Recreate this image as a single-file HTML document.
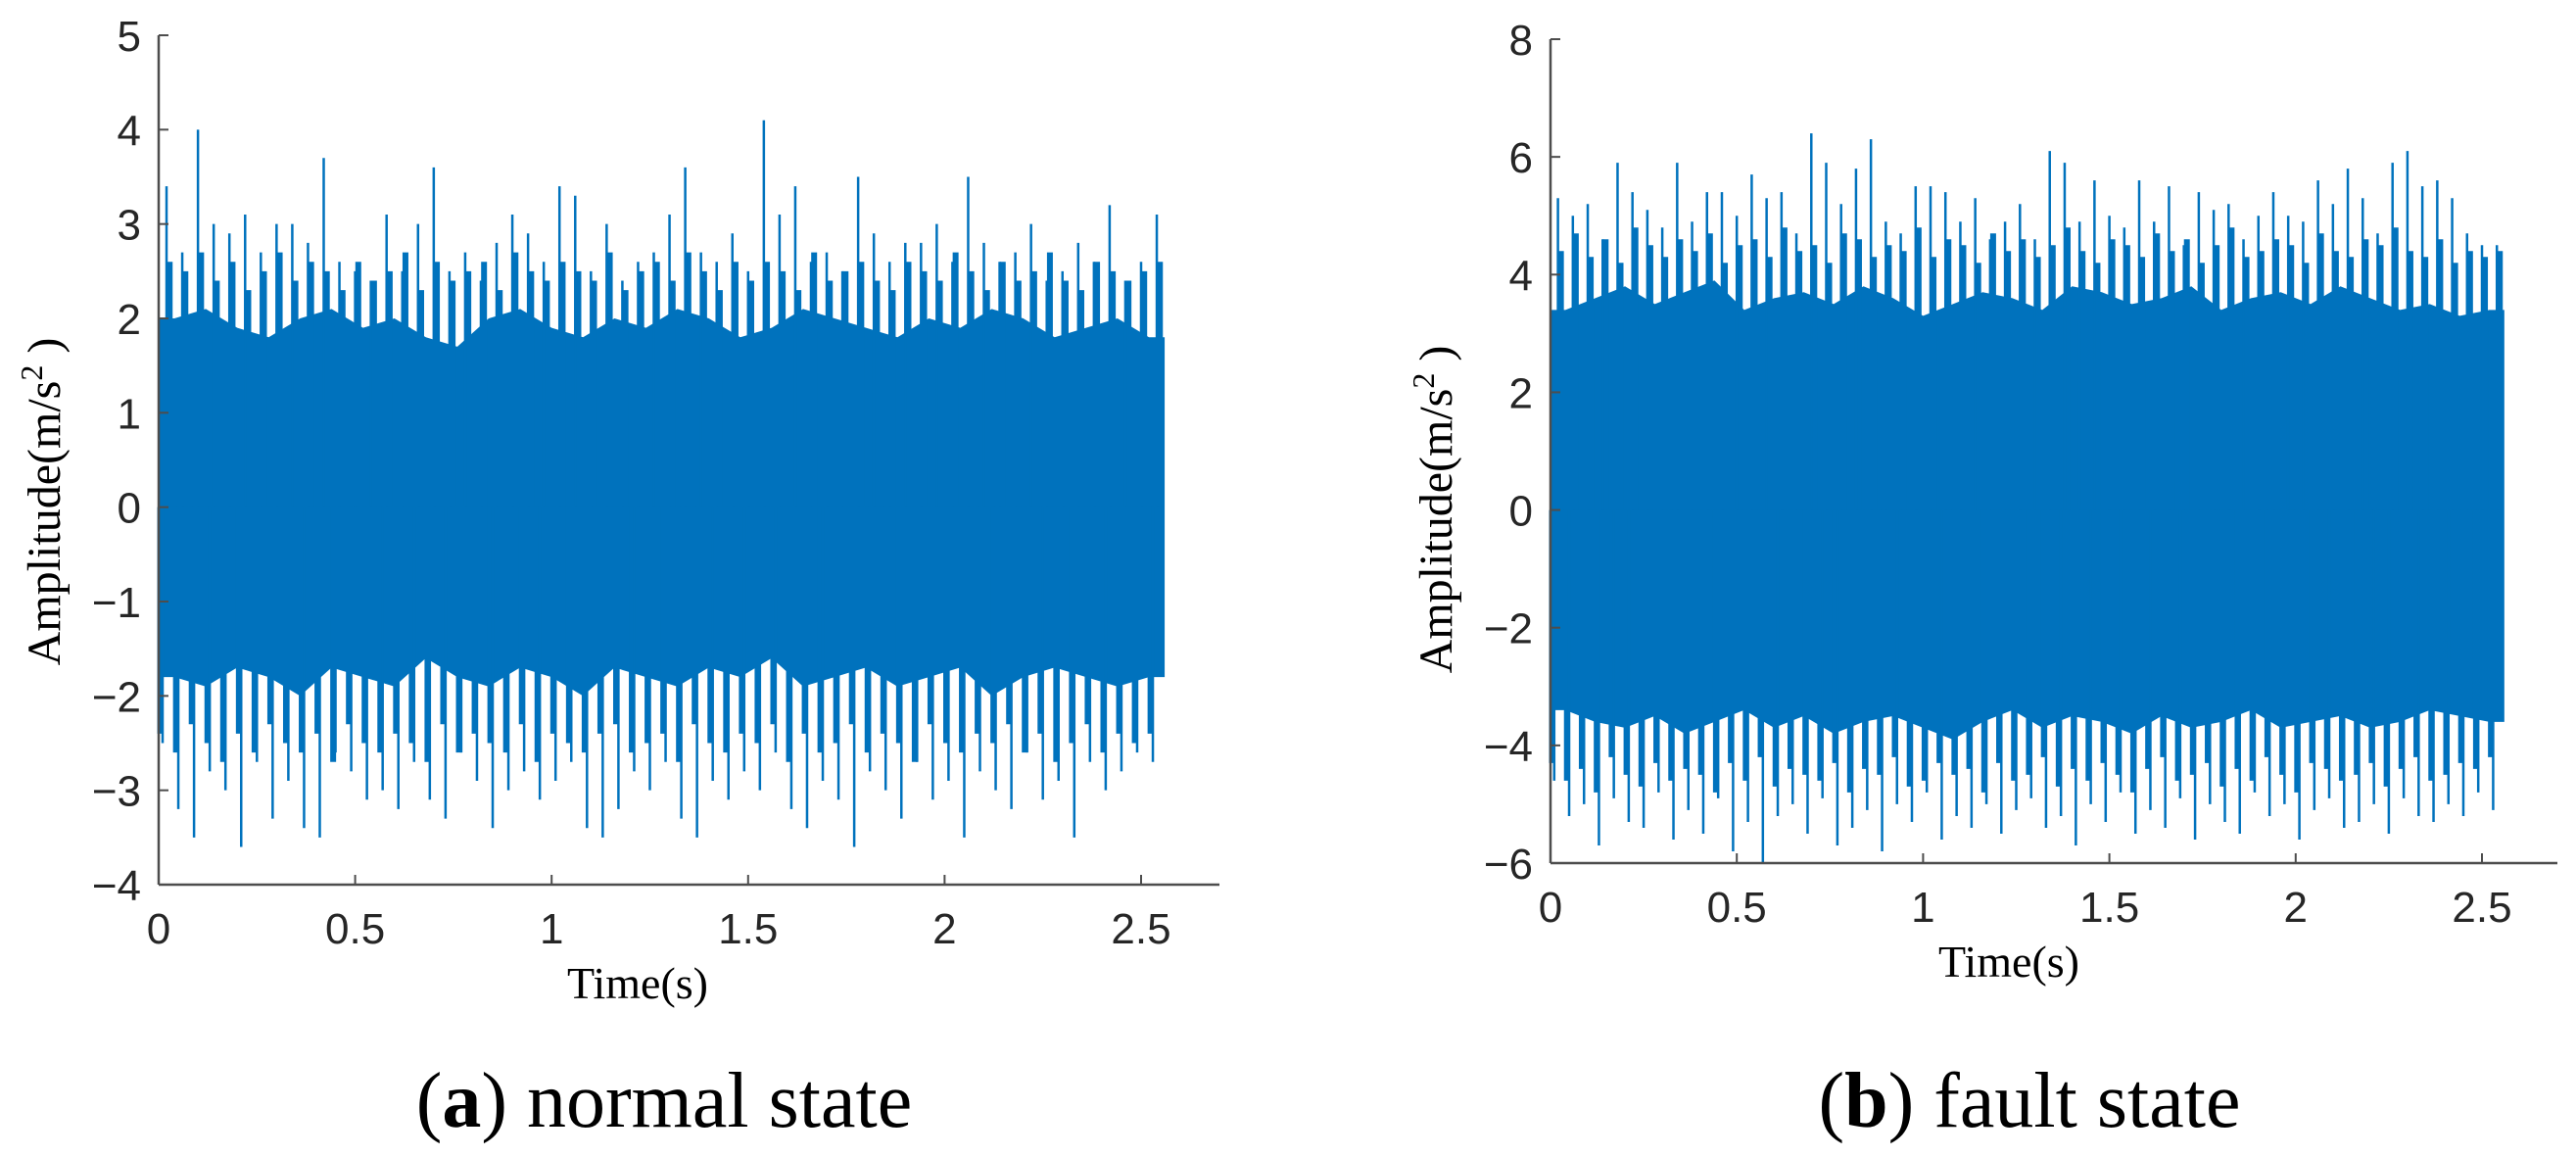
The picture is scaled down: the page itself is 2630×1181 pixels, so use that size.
<!DOCTYPE html>
<html><head><meta charset="utf-8">
<style>
html,body{margin:0;padding:0;background:#fff;}
body{width:2630px;height:1181px;overflow:hidden;position:relative;}
svg{position:absolute;left:0;top:0;}
</style></head>
<body>
<svg id="fig" width="2630" height="1181" xmlns="http://www.w3.org/2000/svg"></svg>
<script>
// ---- data: normal state (a) ----
const aSpikeHi = [3.4,2.7,4.0,3.0,2.9,3.1,2.7,3.0,3.0,2.8,3.7,2.6,2.5,2.4,3.1,2.5,3.0,3.6,2.5,2.7,2.4,2.8,3.1,2.9,2.6,3.4,3.3,2.5,3.0,2.4,2.6,2.7,3.1,3.6,2.7,2.6,2.9,2.5,4.1,3.1,3.4,2.6,2.7,2.5,3.5,2.9,2.6,2.8,2.8,3.0,2.6,3.5,2.8,2.6,2.7,3.0,2.4,2.5,2.8,2.6,3.2,2.4,2.6,3.1];
const aSpikeLo = [-2.5,-3.2,-3.5,-2.8,-3.0,-3.6,-2.7,-3.3,-2.9,-3.4,-3.5,-2.6,-2.8,-3.1,-3.0,-3.2,-2.7,-3.1,-3.3,-2.6,-2.9,-3.4,-3.0,-2.8,-3.1,-2.9,-2.7,-3.4,-3.5,-3.2,-2.8,-3.0,-2.7,-3.3,-3.5,-2.9,-3.1,-2.8,-3.0,-2.6,-3.2,-3.4,-2.9,-3.1,-3.6,-2.8,-3.0,-3.3,-2.7,-3.1,-2.9,-3.5,-2.8,-3.0,-3.2,-2.6,-3.1,-2.9,-3.5,-2.7,-3.0,-2.8,-2.6,-2.7];
const aMidHi = [2.6,2.5,2.7,2.4,2.6,2.3,2.5,2.7,2.4,2.6,2.5,2.3,2.6,2.4,2.5,2.7,2.3,2.6,2.4,2.5,2.6,2.3,2.7,2.5,2.4,2.6,2.5,2.4,2.7,2.3,2.5,2.6,2.4,2.7,2.5,2.3,2.6,2.4,2.6,2.5,2.3,2.7,2.4,2.5,2.6,2.4,2.3,2.6,2.5,2.4,2.7,2.5,2.3,2.6,2.4,2.5,2.7,2.4,2.3,2.6,2.5,2.4,2.5,2.6];
const aMidLo = [-2.4,-2.6,-2.3,-2.5,-2.7,-2.4,-2.6,-2.3,-2.5,-2.6,-2.4,-2.7,-2.3,-2.5,-2.6,-2.4,-2.5,-2.7,-2.3,-2.6,-2.4,-2.5,-2.6,-2.3,-2.7,-2.4,-2.5,-2.6,-2.4,-2.3,-2.6,-2.5,-2.4,-2.7,-2.3,-2.5,-2.6,-2.4,-2.5,-2.3,-2.7,-2.4,-2.6,-2.5,-2.3,-2.6,-2.4,-2.5,-2.7,-2.3,-2.5,-2.6,-2.4,-2.5,-2.3,-2.6,-2.4,-2.7,-2.5,-2.3,-2.6,-2.4,-2.5,-2.4];
const aCoreHi = [2.0,2.1,1.9,1.8,2.0,2.1,1.9,2.0,1.8,1.7,2.0,2.1,1.9,1.8,2.0,1.9,2.1,2.0,1.8,1.9,2.1,2.0,1.9,1.8,2.0,1.9,2.1,2.0,1.8,1.9,2.0,1.8];
const aCoreLo = [-1.8,-1.9,-1.7,-1.8,-2.0,-1.7,-1.8,-1.9,-1.6,-1.8,-1.9,-1.7,-1.8,-2.0,-1.7,-1.8,-1.9,-1.7,-1.8,-1.6,-1.9,-1.8,-1.7,-1.9,-1.8,-1.7,-2.0,-1.8,-1.7,-1.8,-1.9,-1.8];
const aYTicks = [-4,-3,-2,-1,0,1,2,3,4,5];
// ---- data: fault state (b) ----
const bSpikeHi = [5.3,5.0,5.2,4.6,5.9,5.4,5.1,4.8,5.9,4.9,5.4,5.4,5.0,5.7,5.3,5.4,4.7,6.4,5.9,5.2,5.8,6.3,4.9,4.7,5.5,5.5,5.4,4.9,5.3,4.6,4.9,5.2,4.6,6.1,5.9,4.9,5.6,5.0,4.8,5.6,4.9,5.5,4.5,5.4,5.1,5.2,4.6,5.0,5.4,5.0,4.9,5.6,5.2,5.8,5.3,4.7,5.9,6.1,5.5,5.6,5.3,4.7,4.5,4.5];
const bSpikeLo = [-4.6,-5.2,-5.0,-5.7,-4.9,-5.3,-5.4,-4.8,-5.6,-5.1,-5.5,-4.9,-5.8,-5.3,-6.0,-5.2,-5.0,-5.5,-4.9,-5.7,-5.4,-5.1,-5.8,-5.0,-5.3,-4.8,-5.6,-5.2,-5.4,-5.0,-5.5,-5.1,-4.9,-5.4,-5.2,-5.7,-5.0,-5.3,-4.8,-5.5,-5.1,-5.4,-4.9,-5.6,-5.0,-5.3,-5.5,-4.8,-5.2,-5.0,-5.6,-5.1,-4.9,-5.4,-5.3,-5.0,-5.5,-4.9,-5.2,-5.3,-5.0,-5.2,-4.8,-5.1];
const bMidHi = [4.4,4.7,4.3,4.6,4.2,4.8,4.5,4.3,4.6,4.4,4.7,4.2,4.5,4.6,4.3,4.8,4.4,4.5,4.2,4.7,4.6,4.3,4.5,4.4,4.8,4.3,4.6,4.5,4.2,4.7,4.4,4.6,4.3,4.5,4.8,4.4,4.2,4.6,4.5,4.3,4.7,4.4,4.6,4.2,4.5,4.8,4.3,4.4,4.6,4.5,4.2,4.7,4.4,4.3,4.6,4.5,4.8,4.4,4.3,4.6,4.2,4.4,4.3,4.4];
const bMidLo = [-4.3,-4.6,-4.4,-4.8,-4.2,-4.5,-4.7,-4.3,-4.6,-4.4,-4.5,-4.8,-4.3,-4.6,-4.2,-4.7,-4.4,-4.5,-4.6,-4.3,-4.8,-4.4,-4.5,-4.2,-4.7,-4.6,-4.3,-4.5,-4.4,-4.8,-4.3,-4.6,-4.5,-4.2,-4.7,-4.4,-4.6,-4.3,-4.5,-4.8,-4.4,-4.2,-4.6,-4.5,-4.3,-4.7,-4.4,-4.6,-4.2,-4.5,-4.8,-4.3,-4.4,-4.6,-4.5,-4.3,-4.7,-4.4,-4.2,-4.6,-4.5,-4.3,-4.4,-4.2];
const bCoreHi = [3.4,3.6,3.8,3.5,3.7,3.9,3.4,3.6,3.7,3.5,3.8,3.6,3.3,3.5,3.7,3.6,3.4,3.8,3.7,3.5,3.6,3.8,3.4,3.6,3.7,3.5,3.8,3.6,3.4,3.5,3.3,3.4];
const bCoreLo = [-3.4,-3.6,-3.7,-3.5,-3.8,-3.6,-3.4,-3.7,-3.5,-3.8,-3.6,-3.5,-3.7,-3.9,-3.6,-3.4,-3.7,-3.5,-3.6,-3.8,-3.5,-3.7,-3.6,-3.4,-3.7,-3.6,-3.5,-3.7,-3.6,-3.4,-3.5,-3.6];
const bYTicks = [-6,-4,-2,0,2,4,6,8];
const xTicks = [0,0.5,1,1.5,2,2.5];
const xTickLabels = ["0","0.5","1","1.5","2","2.5"];
const tEnd = 2.56;

const NS = "http://www.w3.org/2000/svg";
const svg = document.getElementById('fig');
function mk(tag, attrs, parent){const e=document.createElementNS(NS,tag);for(const k in attrs)e.setAttribute(k,attrs[k]);(parent||svg).appendChild(e);return e;}
const BLUE="#0072BD";

function drawChart(cfg){
  const g = mk('g',{});
  
  
  const sx = v => cfg.x0 + (v-0)*(cfg.x1-cfg.x0)/2.5;
  const sy = v => cfg.yTop + (cfg.yMax - v)*(cfg.yBot-cfg.yTop)/(cfg.yMax-cfg.yMin);
  // core band (polyline through bin centres)
  const n = cfg.coreHi.length;
  let d = "M"+sx(0)+","+sy(cfg.coreHi[0]);
  for(let i=0;i<n;i++){d += "L"+sx(tEnd*(i+0.5)/n)+","+sy(cfg.coreHi[i]);}
  d += "L"+sx(tEnd)+","+sy(cfg.coreHi[n-1])+"L"+sx(tEnd)+","+sy(cfg.coreLo[n-1]);
  for(let i=n-1;i>=0;i--){d += "L"+sx(tEnd*(i+0.5)/n)+","+sy(cfg.coreLo[i]);}
  d += "L"+sx(0)+","+sy(cfg.coreLo[0])+"Z";
  const core = mk('path',{d:d,fill:BLUE},g);
  
  
  // mid-level dense strokes
  const k = cfg.midHi.length;
  for(let i=0;i<k;i++){
    const t = tEnd*(i+0.7)/k, t2 = tEnd*(i+0.1)/k;
    const l = mk('line',{x1:sx(t),x2:sx(t),y1:sy(cfg.midHi[i]),y2:sy(0),stroke:BLUE,'stroke-width':6},g);
    
    
    const l2 = mk('line',{x1:sx(t2),x2:sx(t2),y1:sy(0),y2:sy(cfg.midLo[i]),stroke:BLUE,'stroke-width':6},g);
    
    
  }
  // spikes
  const m = cfg.hi.length;
  for(let i=0;i<m;i++){
    const t = tEnd*(i+0.5)/m;
    const l = mk('line',{x1:sx(t),x2:sx(t),y1:sy(cfg.hi[i]),y2:sy(0),stroke:BLUE,'stroke-width':2.5},g);
    
    
    const t2 = tEnd*(i+0.25)/m;
    const l2 = mk('line',{x1:sx(t2),x2:sx(t2),y1:sy(0),y2:sy(cfg.lo[i]),stroke:BLUE,'stroke-width':2.5},g);
    
    
  }
  // axes
  const ya = mk('line',{x1:cfg.x0,x2:cfg.x0,y1:cfg.yTop,y2:cfg.yBot,stroke:'#4d4d4d','stroke-width':2.5},g);
  
  
  const xa = mk('line',{x1:cfg.x0,x2:cfg.xEnd,y1:cfg.yBot,y2:cfg.yBot,stroke:'#4d4d4d','stroke-width':2.5},g);
  
  
  cfg.yTicks.forEach(v=>{
    const y=sy(v);
    mk('line',{x1:cfg.x0,x2:cfg.x0+10,y1:y,y2:y,stroke:'#4d4d4d','stroke-width':2},g);
    const t=mk('text',{x:cfg.x0-18,y:y+16,'text-anchor':'end','font-family':'Liberation Sans, sans-serif','font-size':44,fill:'#262626'},g);
    t.textContent = (v<0?"\u2212"+(-v):String(v));
    
    
  });
  xTicks.forEach((v,i)=>{
    const x=sx(v);
    mk('line',{x1:x,x2:x,y1:cfg.yBot,y2:cfg.yBot-10,stroke:'#4d4d4d','stroke-width':2},g);
    const t=mk('text',{x:x,y:cfg.yBot+60,'text-anchor':'middle','font-family':'Liberation Sans, sans-serif','font-size':44,fill:'#262626'},g);
    t.textContent = xTickLabels[i];
    
    
  });
  const xt=mk('text',{x:cfg.xLabelX,y:cfg.yBot+116,'text-anchor':'middle','font-family':'Liberation Serif, serif','font-size':46,fill:'#000'},g);
  xt.textContent="Time(s)";
  
  
  const yt=mk('text',{x:0,y:0,'text-anchor':'middle','font-family':'Liberation Serif, serif','font-size':48,fill:'#000',transform:'translate('+(cfg.yLabelX+16)+','+cfg.yLabelY+') rotate(-90)'},g);
  yt.innerHTML='Amplitude(m/s<tspan dy="-18" font-size="32">2</tspan><tspan dy="18"> )</tspan>';
  
  
  const cap=mk('text',{x:cfg.capX,y:1150,'text-anchor':'middle','font-family':'Liberation Serif, serif','font-size':80,fill:'#000'},g);
  cap.innerHTML='(<tspan font-weight="bold">'+cfg.capLetter+'</tspan>) '+cfg.capText;
  
  
}

drawChart({name:'chart-normal-state',x0:162,x1:1165,xEnd:1245,yTop:36,yBot:903,yMax:5,yMin:-4,
  hi:aSpikeHi,lo:aSpikeLo,midHi:aMidHi,midLo:aMidLo,coreHi:aCoreHi,coreLo:aCoreLo,yTicks:aYTicks,
  xLabelX:651,yLabelX:45,yLabelY:512,capX:678,capLetter:'a',capText:'normal state'});
drawChart({name:'chart-fault-state',x0:1583,x1:2534,xEnd:2611,yTop:40,yBot:881,yMax:8,yMin:-6,
  hi:bSpikeHi,lo:bSpikeLo,midHi:bMidHi,midLo:bMidLo,coreHi:bCoreHi,coreLo:bCoreLo,yTicks:bYTicks,
  xLabelX:2051,yLabelX:1466,yLabelY:520,capX:2072,capLetter:'b',capText:'fault state'});
</script>
</body></html>
